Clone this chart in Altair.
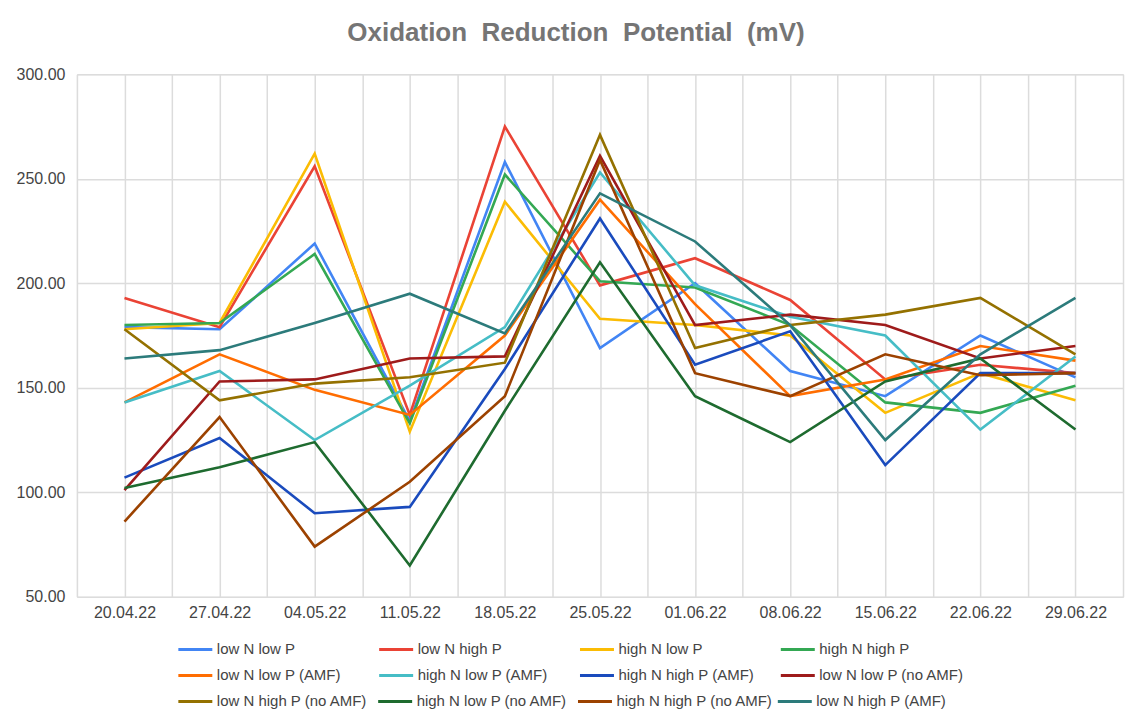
import altair as alt
import pandas as pd

dates = ["20.04.22", "27.04.22", "04.05.22", "11.05.22", "18.05.22", "25.05.22",
         "01.06.22", "08.06.22", "15.06.22", "22.06.22", "29.06.22"]

series_names = [
    "low N low P", "low N high P", "high N low P", "high N high P",
    "low N low P (AMF)", "high N low P (AMF)", "high N high P (AMF)", "low N low P (no AMF)",
    "low N high P (no AMF)", "high N low P (no AMF)", "high N high P (no AMF)", "low N high P (AMF)",
]

low_n_low_p = [179, 178, 219, 134, 258, 169, 200, 158, 146, 175, 155]
low_n_high_p = [193, 179, 256, 137, 275, 199, 212, 192, 154, 161, 157]
high_n_low_p = [178, 181, 262, 129, 239, 183, 180, 175, 138, 157, 144]
high_n_high_p = [180, 181, 214, 133, 252, 201, 198, 180, 143, 138, 151]
low_n_low_p_amf = [143, 166, 149, 137, 175, 240, 190, 146, 154, 170, 163]
high_n_low_p_amf = [143, 158, 125, 151, 179, 253, 199, 184, 175, 130, 165]
high_n_high_p_amf = [107, 126, 90, 93, 159, 231, 161, 177, 113, 157, 157]
low_n_low_p_no_amf = [101, 153, 154, 164, 165, 261, 180, 185, 180, 164, 170]
low_n_high_p_no_amf = [178, 144, 152, 155, 162, 271, 169, 180, 185, 193, 166]
high_n_low_p_no_amf = [102, 112, 124, 65, 139, 210, 146, 124, 153, 164, 130]
high_n_high_p_no_amf = [86, 136, 74, 105, 146, 259, 157, 146, 166, 156, 157]
low_n_high_p_amf = [164, 168, 181, 195, 176, 243, 220, 180, 125, 166, 193]

series_values = [
    low_n_low_p, low_n_high_p, high_n_low_p, high_n_high_p,
    low_n_low_p_amf, high_n_low_p_amf, high_n_high_p_amf, low_n_low_p_no_amf,
    low_n_high_p_no_amf, high_n_low_p_no_amf, high_n_high_p_no_amf, low_n_high_p_amf,
]

colors = ["#4285F4", "#EA4335", "#FBBC04", "#34A853",
          "#FF6D01", "#46BDC6", "#1A4BBD", "#9E1B1B",
          "#947100", "#1E6B2F", "#9C4200", "#2C7B7B"]

N_COLS = 4
rows = []
for s_i, (name, vals) in enumerate(zip(series_names, series_values)):
    for i, v in enumerate(vals):
        rows.append({"series": name, "legend_row": s_i // N_COLS, "idx": i,
                     "date": dates[i], "value": v})
df = pd.DataFrame(rows)

grid_values = [i * 0.5 - 0.5 for i in range(2 * len(dates) + 1)]
label_expr = ("datum.value % 1 == 0 ? " + str(dates) + "[datum.value] : ''")

FONT = "Liberation Sans"

x_enc = alt.X("idx:Q",
              scale=alt.Scale(domain=[-0.5, len(dates) - 0.5], nice=False, zero=False),
              axis=alt.Axis(values=grid_values, labelExpr=label_expr, title=None,
                            ticks=False, domain=False, labelOverlap=False, labelFlush=False,
                            labelPadding=8, labelFontSize=16, labelColor="#444444",
                            labelFont=FONT, gridColor="#dcdcdc", gridWidth=1.5))
y_enc = alt.Y("value:Q",
              scale=alt.Scale(domain=[50, 300], nice=False, zero=False),
              axis=alt.Axis(values=[50, 100, 150, 200, 250, 300], format=".2f", title=None,
                            ticks=False, domain=False, labelPadding=12, labelFontSize=16,
                            labelColor="#444444", labelFont=FONT,
                            gridColor="#dcdcdc", gridWidth=1.5))

# one legend row per layer: (legendY, columnPadding)
legend_rows = [(557, 65), (583, 10), (609, -2)]

layers = []
for r, (ly, cpad) in enumerate(legend_rows):
    names = series_names[r * N_COLS:(r + 1) * N_COLS]
    cols = colors[r * N_COLS:(r + 1) * N_COLS]
    layers.append(
        alt.Chart(df).transform_filter(alt.datum.legend_row == r)
        .mark_line(strokeWidth=2.6, strokeJoin="miter").encode(
            x=x_enc,
            y=y_enc,
            color=alt.Color("series:N",
                            scale=alt.Scale(domain=names, range=cols),
                            legend=alt.Legend(title=None, orient="none", legendX=100,
                                              legendY=ly, direction="horizontal",
                                              columns=N_COLS, gridAlign="all",
                                              columnPadding=cpad, symbolType="stroke",
                                              symbolSize=1156, symbolStrokeWidth=3,
                                              labelOffset=3, labelFontSize=15,
                                              labelFont=FONT, labelColor="#444444",
                                              labelLimit=400)),
            detail="series:N",
            order="idx:Q",
        )
    )

chart = alt.layer(*layers).resolve_scale(color="independent").properties(
    width=1047,
    height=523,
    title=alt.Title("Oxidation\u00a0\u00a0Reduction\u00a0\u00a0Potential\u00a0\u00a0(mV)",
                    fontSize=26, font=FONT, fontWeight="bold", color="#757575",
                    anchor="middle", offset=20, dx=-24),
    autosize=alt.AutoSizeParams(type="none"),
    padding={"left": 69, "top": 66, "right": 10, "bottom": 114},
).configure_view(
    fill="#eeeeee", stroke="#d9d9d9", strokeWidth=1.5
).configure(background="white")

chart.save("out.html", embed_options={"renderer": "svg", "actions": False})
